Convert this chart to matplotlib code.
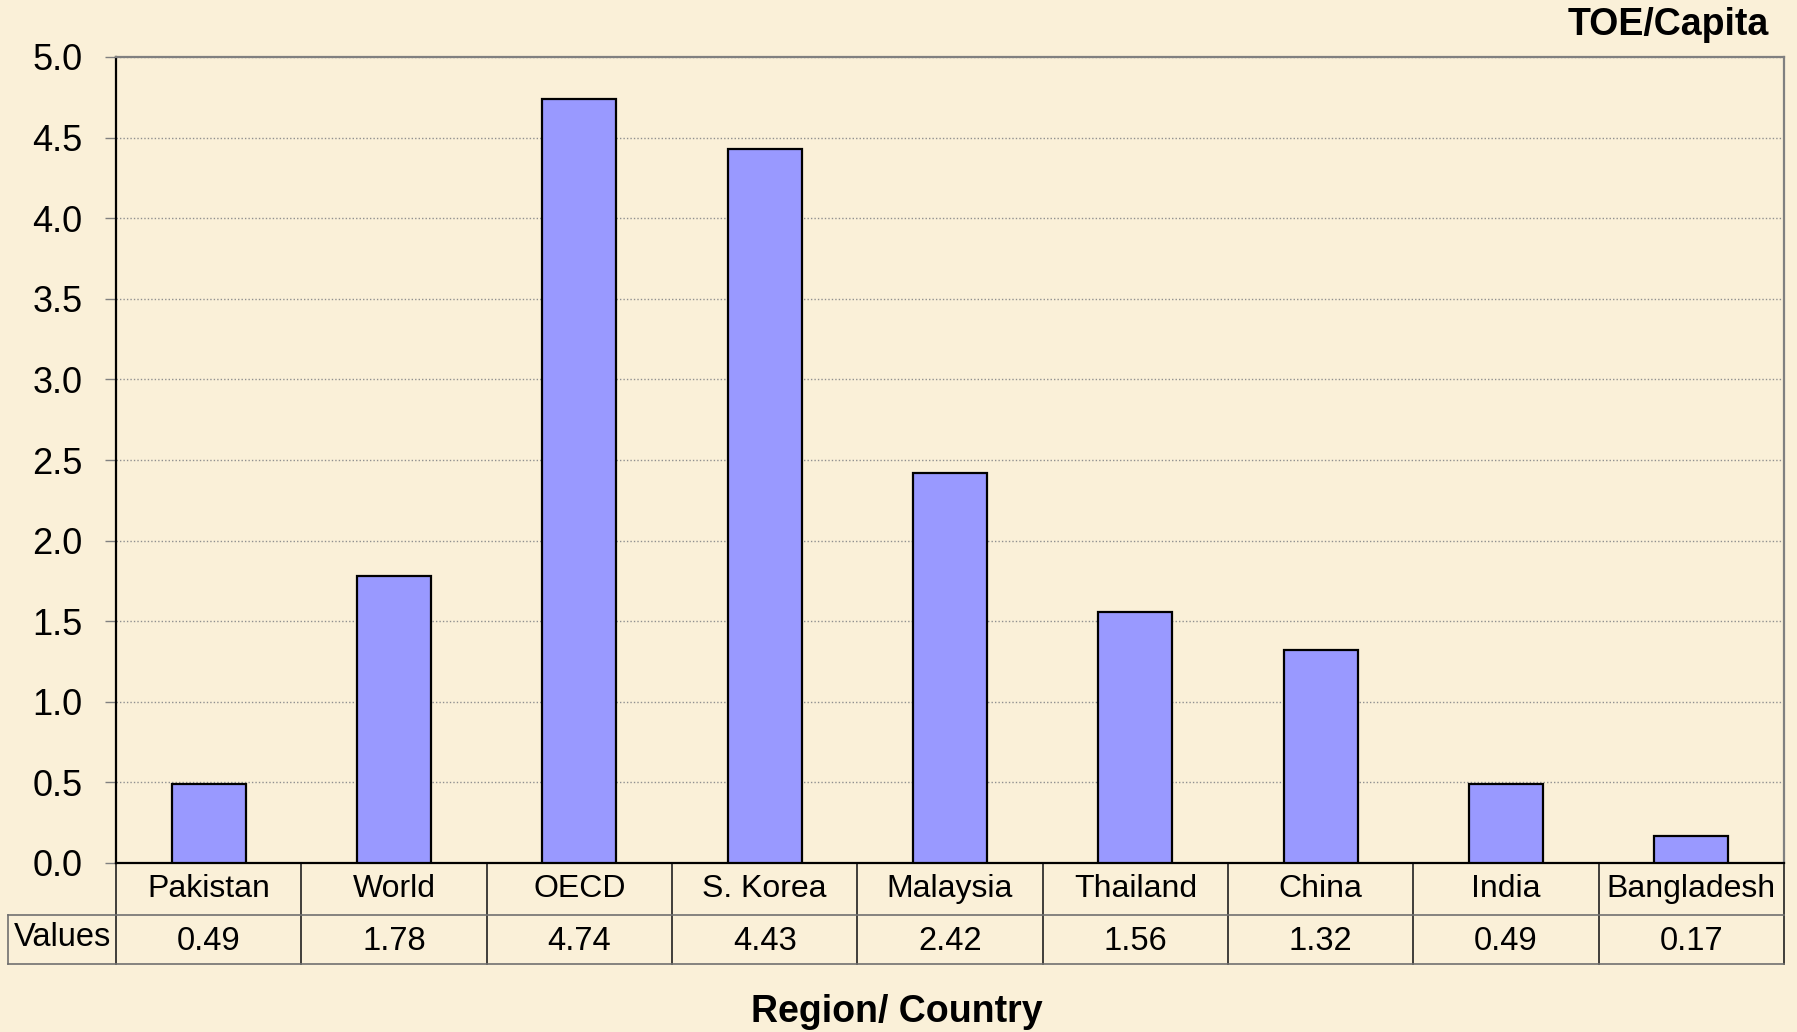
import matplotlib
matplotlib.use("Agg")
import matplotlib.pyplot as plt
from matplotlib.transforms import blended_transform_factory
import numpy as np

categories = ["Pakistan", "World", "OECD", "S. Korea", "Malaysia", "Thailand", "China", "India", "Bangladesh"]
values = [0.49, 1.78, 4.74, 4.43, 2.42, 1.56, 1.32, 0.49, 0.17]
value_labels = ["0.49", "1.78", "4.74", "4.43", "2.42", "1.56", "1.32", "0.49", "0.17"]
yticks = [0.0, 0.5, 1.0, 1.5, 2.0, 2.5, 3.0, 3.5, 4.0, 4.5, 5.0]
row_label = "Values"
unit_label = "TOE/Capita"
x_title = "Region/ Country"

plt.rcParams['font.family'] = ['Liberation Sans', 'DejaVu Sans']

W, H = 1797, 1032
bg = '#FAF0D8'
fig = plt.figure(figsize=(W / 100, H / 100), dpi=100, facecolor=bg)
L, R, T, B = 116, 1784, 57, 863
ax = fig.add_axes([L / W, 1 - B / H, (R - L) / W, (B - T) / H])
ax.set_facecolor('none')

n = len(categories)
x = np.arange(n)
ax.bar(x, values, width=0.4, color='#9999FF', edgecolor='black', linewidth=1.6, zorder=3)
ax.set_xlim(-0.5, n - 0.5)
ax.set_ylim(0, 5)
ax.set_yticks(yticks)
ax.set_yticklabels([f"{v:.1f}" for v in yticks], fontsize=26)
ax.set_xticks([])
ax.tick_params(axis='y', length=8, width=1, color='#808080', pad=16)
ax.grid(axis='y', linestyle=(0, (1, 1.5)), color='#909090', linewidth=1, zorder=0)
for s in ['top', 'right']:
    ax.spines[s].set_color('#808080')
    ax.spines[s].set_linewidth(1.6)
for s in ['left', 'bottom']:
    ax.spines[s].set_color('black')
    ax.spines[s].set_linewidth(1.6)

# data table under the axis
axw = R - L
axh = B - T
rlw = (L - 8) / axw
h1 = (915 - B) / axh
h2 = (964 - B) / axh
tr = blended_transform_factory(ax.transData, ax.transAxes)
ta = ax.transAxes
vcol = '#202020'
hcol = '#707070'
for i in range(n + 1):
    ax.plot([i - 0.5, i - 0.5], [0, -h2], transform=tr, color=vcol, lw=1.2, clip_on=False)
ax.plot([-rlw, -rlw], [-h1, -h2], transform=ta, color=hcol, lw=1.2, clip_on=False)
ax.plot([-rlw, 1], [-h1, -h1], transform=ta, color=hcol, lw=1.2, clip_on=False)
ax.plot([-rlw, 1], [-h2, -h2], transform=ta, color=hcol, lw=1.2, clip_on=False)
for i in range(n):
    ax.text(x[i], -h1 / 2, categories[i], transform=tr, ha='center', va='center', fontsize=23)
    ax.text(x[i], -(h1 + h2) / 2 - 0.002, value_labels[i], transform=tr, ha='center', va='center', fontsize=23.5)
ax.text(-rlw / 2, -(h1 + h2) / 2 + 0.002, row_label, transform=ta, ha='center', va='center', fontsize=23.5)

fig.text(1769 / W, 1 - 25 / H, unit_label, ha='right', va='center', fontsize=27, fontweight='bold')
fig.text(897 / W, 1 - 1012 / H, x_title, ha='center', va='center', fontsize=27, fontweight='bold')

fig.savefig("out.png", dpi=100, facecolor=bg)
